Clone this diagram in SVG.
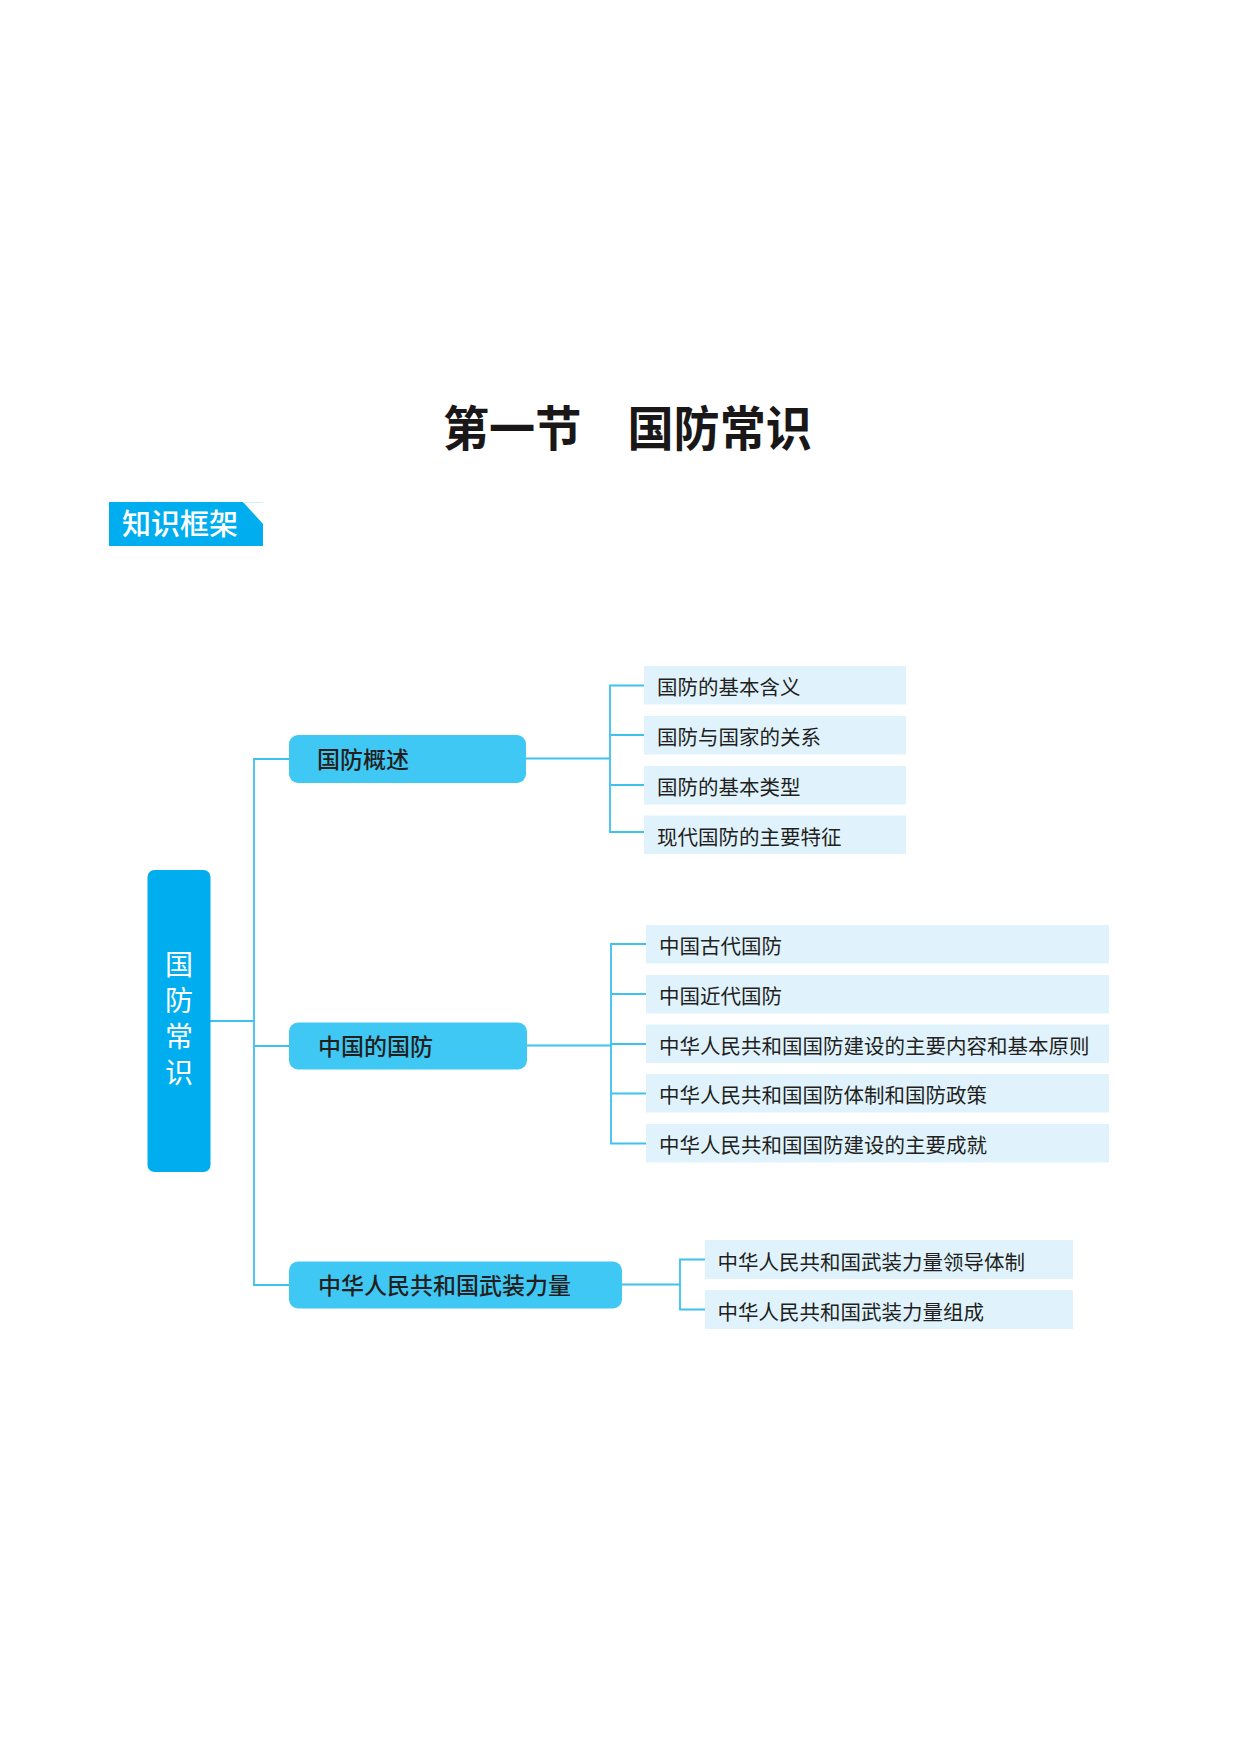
<svg xmlns="http://www.w3.org/2000/svg" width="1240" height="1754" viewBox="0 0 1240 1754">
<style>
  .cjk { font-family: "Noto Sans CJK SC", "Noto Sans", sans-serif; }
  .title { font-size: 48px; font-weight: 700; fill: #1a1718; }
  .tag { font-size: 29px; font-weight: 500; fill: #ffffff; }
  .root { fill: #00AEEF; }
  .roottxt { font-size: 28px; font-weight: 400; fill: #ffffff; writing-mode: vertical-rl; letter-spacing: 8px; }
  .l1 { fill: #40C8F4; }
  .l1txt { font-size: 23px; font-weight: 500; fill: #231F20; }
  .leaf { fill: #E0F3FD; }
  .leaftxt { font-size: 20.5px; font-weight: 400; fill: #231F20; }
  .conn { fill: none; stroke: #3EC1EE; stroke-width: 1.8; }
</style>
<rect width="1240" height="1754" fill="#ffffff"/>

<text class="cjk title" x="443" y="446" textLength="369" lengthAdjust="spacingAndGlyphs">第一节　国防常识</text>

<g id="tag">
  <polygon points="109,502 243,502 263,524 263,546 109,546" fill="#00AEEF"/>
  <line x1="243" y1="502.5" x2="263" y2="502.5" stroke="#CFEFFB" stroke-width="1"/>
  <text class="cjk tag" x="122" y="535">知识框架</text>
</g>

<g id="connectors">
  <path class="conn" d="M210 1021 H254"/>
  <path class="conn" d="M289 759 H254 V1285 H289 M254 1046 H289"/>
  <path class="conn" d="M526 758.5 H610 M644 685.5 H610 V832 H644 M610 735 H644 M610 785 H644"/>
  <path class="conn" d="M527 1045.5 H611 M646 944 H611 V1143.5 H646 M611 994 H646 M611 1044 H646 M611 1093.5 H646"/>
  <path class="conn" d="M622 1284.5 H680 M705 1259.5 H680 V1309.5 H705"/>
</g>

<g id="root">
  <rect class="root" x="147.5" y="870" width="63" height="302" rx="7"/>
  <text class="cjk roottxt" x="179" y="950">国防常识</text>
</g>

<g id="l1-gaishu">
  <rect class="l1" x="289" y="735" width="237" height="48" rx="9"/>
  <text class="cjk l1txt" x="317" y="767.5">国防概述</text>
</g>
<g id="l1-zhongguo">
  <rect class="l1" x="289" y="1022.5" width="238" height="47" rx="9"/>
  <text class="cjk l1txt" x="318" y="1054.5">中国的国防</text>
</g>
<g id="l1-wuzhuang">
  <rect class="l1" x="289" y="1261.5" width="333" height="47" rx="9"/>
  <text class="cjk l1txt" x="318" y="1293.5">中华人民共和国武装力量</text>
</g>

<g id="leaf-1-1"><rect class="leaf" x="644" y="666" width="262" height="38.5"/><text class="cjk leaftxt" x="657" y="695">国防的基本含义</text></g>
<g id="leaf-1-2"><rect class="leaf" x="644" y="716" width="262" height="38.5"/><text class="cjk leaftxt" x="657" y="745">国防与国家的关系</text></g>
<g id="leaf-1-3"><rect class="leaf" x="644" y="766" width="262" height="38.5"/><text class="cjk leaftxt" x="657" y="795">国防的基本类型</text></g>
<g id="leaf-1-4"><rect class="leaf" x="644" y="815.5" width="262" height="38.5"/><text class="cjk leaftxt" x="657" y="844.5">现代国防的主要特征</text></g>

<g id="leaf-2-1"><rect class="leaf" x="646" y="925" width="463" height="38.5"/><text class="cjk leaftxt" x="659" y="954">中国古代国防</text></g>
<g id="leaf-2-2"><rect class="leaf" x="646" y="975" width="463" height="38.5"/><text class="cjk leaftxt" x="659" y="1004">中国近代国防</text></g>
<g id="leaf-2-3"><rect class="leaf" x="646" y="1024.5" width="463" height="38.5"/><text class="cjk leaftxt" x="659" y="1053.5">中华人民共和国国防建设的主要内容和基本原则</text></g>
<g id="leaf-2-4"><rect class="leaf" x="646" y="1074" width="463" height="38.5"/><text class="cjk leaftxt" x="659" y="1103">中华人民共和国国防体制和国防政策</text></g>
<g id="leaf-2-5"><rect class="leaf" x="646" y="1124" width="463" height="38.5"/><text class="cjk leaftxt" x="659" y="1153">中华人民共和国国防建设的主要成就</text></g>

<g id="leaf-3-1"><rect class="leaf" x="705" y="1240" width="368" height="39"/><text class="cjk leaftxt" x="717.5" y="1269.5">中华人民共和国武装力量领导体制</text></g>
<g id="leaf-3-2"><rect class="leaf" x="705" y="1290" width="368" height="39"/><text class="cjk leaftxt" x="717.5" y="1319.5">中华人民共和国武装力量组成</text></g>
</svg>
